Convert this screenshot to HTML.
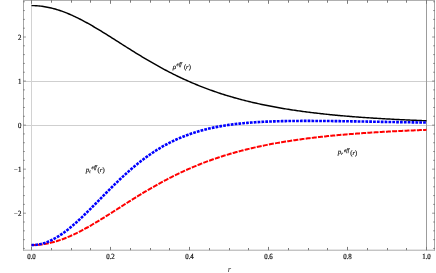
<!DOCTYPE html>
<html><head><meta charset="utf-8"><title>plot</title>
<style>html,body{margin:0;padding:0;background:#fff;}svg{display:block;will-change:transform;}text{font-family:"Liberation Serif",serif;text-rendering:geometricPrecision;}</style></head><body>
<svg width="436" height="273" viewBox="0 0 436 273">
<rect x="0" y="0" width="436" height="273" fill="#fff"/>
<line x1="23.50" y1="125.50" x2="434.50" y2="125.50" stroke="#cfcfcf" stroke-width="1"/>
<line x1="23.50" y1="81.50" x2="434.50" y2="81.50" stroke="#cfcfcf" stroke-width="1"/>
<line x1="31.50" y1="0.50" x2="31.50" y2="250.20" stroke="#d2d2d2" stroke-width="1"/>
<line x1="426.50" y1="0.50" x2="426.50" y2="250.20" stroke="#9c9c9c" stroke-width="1"/>
<path d="M31.50,5.61 L32.82,5.62 L34.13,5.65 L35.45,5.71 L36.77,5.78 L38.08,5.88 L39.40,6.00 L40.72,6.14 L42.03,6.30 L43.35,6.49 L44.67,6.69 L45.98,6.92 L47.30,7.17 L48.62,7.43 L49.93,7.72 L51.25,8.03 L52.57,8.35 L53.88,8.70 L55.20,9.07 L56.52,9.45 L57.83,9.86 L59.15,10.28 L60.47,10.72 L61.78,11.18 L63.10,11.65 L64.42,12.15 L65.73,12.66 L67.05,13.18 L68.37,13.73 L69.68,14.28 L71.00,14.86 L72.32,15.44 L73.63,16.05 L74.95,16.66 L76.27,17.29 L77.58,17.93 L78.90,18.59 L80.22,19.26 L81.53,19.93 L82.85,20.63 L84.17,21.33 L85.48,22.04 L86.80,22.76 L88.12,23.49 L89.43,24.23 L90.75,24.98 L92.07,25.74 L93.38,26.50 L94.70,27.28 L96.02,28.06 L97.33,28.84 L98.65,29.64 L99.97,30.43 L101.28,31.24 L102.60,32.05 L103.92,32.86 L105.23,33.67 L106.55,34.49 L107.87,35.32 L109.18,36.15 L110.50,36.97 L111.82,37.81 L113.13,38.64 L114.45,39.47 L115.77,40.31 L117.08,41.14 L118.40,41.98 L119.72,42.82 L121.03,43.65 L122.35,44.49 L123.67,45.32 L124.98,46.16 L126.30,46.99 L127.62,47.82 L128.93,48.65 L130.25,49.48 L131.57,50.30 L132.88,51.12 L134.20,51.94 L135.52,52.76 L136.83,53.57 L138.15,54.38 L139.47,55.18 L140.78,55.98 L142.10,56.78 L143.42,57.57 L144.73,58.36 L146.05,59.14 L147.37,59.92 L148.68,60.69 L150.00,61.46 L151.32,62.22 L152.63,62.98 L153.95,63.73 L155.27,64.48 L156.58,65.22 L157.90,65.95 L159.22,66.68 L160.53,67.41 L161.85,68.12 L163.17,68.83 L164.48,69.54 L165.80,70.24 L167.12,70.93 L168.43,71.61 L169.75,72.29 L171.07,72.96 L172.38,73.63 L173.70,74.29 L175.02,74.94 L176.33,75.59 L177.65,76.23 L178.97,76.86 L180.28,77.49 L181.60,78.11 L182.92,78.72 L184.23,79.33 L185.55,79.93 L186.87,80.52 L188.18,81.11 L189.50,81.69 L190.82,82.26 L192.13,82.83 L193.45,83.39 L194.77,83.94 L196.08,84.49 L197.40,85.03 L198.72,85.56 L200.03,86.09 L201.35,86.61 L202.67,87.12 L203.98,87.63 L205.30,88.14 L206.62,88.63 L207.93,89.12 L209.25,89.60 L210.57,90.08 L211.88,90.55 L213.20,91.02 L214.52,91.48 L215.83,91.93 L217.15,92.38 L218.47,92.82 L219.78,93.26 L221.10,93.69 L222.42,94.11 L223.73,94.53 L225.05,94.94 L226.37,95.35 L227.68,95.75 L229.00,96.15 L230.32,96.54 L231.63,96.93 L232.95,97.31 L234.27,97.68 L235.58,98.05 L236.90,98.42 L238.22,98.78 L239.53,99.14 L240.85,99.49 L242.17,99.83 L243.48,100.17 L244.80,100.51 L246.12,100.84 L247.43,101.17 L248.75,101.49 L250.07,101.81 L251.38,102.12 L252.70,102.43 L254.02,102.74 L255.33,103.04 L256.65,103.33 L257.97,103.63 L259.28,103.91 L260.60,104.20 L261.92,104.48 L263.23,104.75 L264.55,105.03 L265.87,105.29 L267.18,105.56 L268.50,105.82 L269.82,106.08 L271.13,106.33 L272.45,106.58 L273.77,106.82 L275.08,107.07 L276.40,107.31 L277.72,107.54 L279.03,107.77 L280.35,108.00 L281.67,108.23 L282.98,108.45 L284.30,108.67 L285.62,108.89 L286.93,109.10 L288.25,109.31 L289.57,109.52 L290.88,109.72 L292.20,109.92 L293.52,110.12 L294.83,110.32 L296.15,110.51 L297.47,110.70 L298.78,110.89 L300.10,111.07 L301.42,111.25 L302.73,111.43 L304.05,111.61 L305.37,111.78 L306.68,111.96 L308.00,112.12 L309.32,112.29 L310.63,112.46 L311.95,112.62 L313.27,112.78 L314.58,112.94 L315.90,113.09 L317.22,113.25 L318.53,113.40 L319.85,113.55 L321.17,113.69 L322.48,113.84 L323.80,113.98 L325.12,114.12 L326.43,114.26 L327.75,114.40 L329.07,114.53 L330.38,114.66 L331.70,114.80 L333.02,114.92 L334.33,115.05 L335.65,115.18 L336.97,115.30 L338.28,115.42 L339.60,115.54 L340.92,115.66 L342.23,115.78 L343.55,115.90 L344.87,116.01 L346.18,116.12 L347.50,116.23 L348.82,116.34 L350.13,116.45 L351.45,116.56 L352.77,116.66 L354.08,116.76 L355.40,116.87 L356.72,116.97 L358.03,117.07 L359.35,117.16 L360.67,117.26 L361.98,117.36 L363.30,117.45 L364.62,117.54 L365.93,117.63 L367.25,117.72 L368.57,117.81 L369.88,117.90 L371.20,117.99 L372.52,118.07 L373.83,118.16 L375.15,118.24 L376.47,118.32 L377.78,118.40 L379.10,118.48 L380.42,118.56 L381.73,118.64 L383.05,118.71 L384.37,118.79 L385.68,118.86 L387.00,118.94 L388.32,119.01 L389.63,119.08 L390.95,119.15 L392.27,119.22 L393.58,119.29 L394.90,119.36 L396.22,119.42 L397.53,119.49 L398.85,119.56 L400.17,119.62 L401.48,119.68 L402.80,119.75 L404.12,119.81 L405.43,119.87 L406.75,119.93 L408.07,119.99 L409.38,120.05 L410.70,120.11 L412.02,120.16 L413.33,120.22 L414.65,120.28 L415.97,120.33 L417.28,120.39 L418.60,120.44 L419.92,120.49 L421.23,120.54 L422.55,120.60 L423.87,120.65 L425.18,120.70 L426.50,120.75" fill="none" stroke="#000" stroke-width="1.45" stroke-linejoin="round"/>
<path d="M31.50,245.09 L32.82,245.08 L34.13,245.05 L35.45,244.99 L36.77,244.91 L38.08,244.81 L39.40,244.69 L40.72,244.55 L42.03,244.39 L43.35,244.20 L44.67,243.99 L45.98,243.77 L47.30,243.52 L48.62,243.25 L49.93,242.95 L51.25,242.64 L52.57,242.31 L53.88,241.96 L55.20,241.59 L56.52,241.20 L57.83,240.79 L59.15,240.37 L60.47,239.92 L61.78,239.46 L63.10,238.97 L64.42,238.48 L65.73,237.96 L67.05,237.43 L68.37,236.88 L69.68,236.32 L71.00,235.74 L72.32,235.14 L73.63,234.54 L74.95,233.91 L76.27,233.28 L77.58,232.63 L78.90,231.97 L80.22,231.29 L81.53,230.61 L82.85,229.91 L84.17,229.20 L85.48,228.48 L86.80,227.75 L88.12,227.02 L89.43,226.27 L90.75,225.51 L92.07,224.75 L93.38,223.98 L94.70,223.20 L96.02,222.41 L97.33,221.62 L98.65,220.82 L99.97,220.01 L101.28,219.20 L102.60,218.39 L103.92,217.57 L105.23,216.75 L106.55,215.92 L107.87,215.09 L109.18,214.26 L110.50,213.42 L111.82,212.59 L113.13,211.75 L114.45,210.91 L115.77,210.07 L117.08,209.23 L118.40,208.38 L119.72,207.54 L121.03,206.70 L122.35,205.86 L123.67,205.02 L124.98,204.18 L126.30,203.35 L127.62,202.51 L128.93,201.68 L130.25,200.85 L131.57,200.02 L132.88,199.19 L134.20,198.37 L135.52,197.55 L136.83,196.74 L138.15,195.93 L139.47,195.12 L140.78,194.32 L142.10,193.52 L143.42,192.72 L144.73,191.93 L146.05,191.15 L147.37,190.37 L148.68,189.59 L150.00,188.82 L151.32,188.06 L152.63,187.30 L153.95,186.55 L155.27,185.80 L156.58,185.06 L157.90,184.32 L159.22,183.59 L160.53,182.87 L161.85,182.15 L163.17,181.44 L164.48,180.73 L165.80,180.04 L167.12,179.34 L168.43,178.66 L169.75,177.98 L171.07,177.31 L172.38,176.64 L173.70,175.98 L175.02,175.33 L176.33,174.68 L177.65,174.04 L178.97,173.41 L180.28,172.79 L181.60,172.17 L182.92,171.55 L184.23,170.95 L185.55,170.35 L186.87,169.76 L188.18,169.17 L189.50,168.59 L190.82,168.02 L192.13,167.46 L193.45,166.90 L194.77,166.35 L196.08,165.80 L197.40,165.26 L198.72,164.73 L200.03,164.20 L201.35,163.69 L202.67,163.17 L203.98,162.67 L205.30,162.17 L206.62,161.67 L207.93,161.18 L209.25,160.70 L210.57,160.23 L211.88,159.76 L213.20,159.30 L214.52,158.84 L215.83,158.39 L217.15,157.94 L218.47,157.50 L219.78,157.07 L221.10,156.64 L222.42,156.22 L223.73,155.80 L225.05,155.39 L226.37,154.99 L227.68,154.59 L229.00,154.19 L230.32,153.80 L231.63,153.42 L232.95,153.04 L234.27,152.67 L235.58,152.30 L236.90,151.94 L238.22,151.58 L239.53,151.23 L240.85,150.88 L242.17,150.54 L243.48,150.20 L244.80,149.86 L246.12,149.53 L247.43,149.21 L248.75,148.89 L250.07,148.57 L251.38,148.26 L252.70,147.96 L254.02,147.65 L255.33,147.36 L256.65,147.06 L257.97,146.77 L259.28,146.49 L260.60,146.21 L261.92,145.93 L263.23,145.66 L264.55,145.39 L265.87,145.12 L267.18,144.86 L268.50,144.60 L269.82,144.35 L271.13,144.10 L272.45,143.85 L273.77,143.60 L275.08,143.36 L276.40,143.13 L277.72,142.89 L279.03,142.66 L280.35,142.44 L281.67,142.21 L282.98,141.99 L284.30,141.78 L285.62,141.56 L286.93,141.35 L288.25,141.14 L289.57,140.94 L290.88,140.74 L292.20,140.54 L293.52,140.34 L294.83,140.15 L296.15,139.96 L297.47,139.77 L298.78,139.59 L300.10,139.40 L301.42,139.22 L302.73,139.05 L304.05,138.87 L305.37,138.70 L306.68,138.53 L308.00,138.36 L309.32,138.20 L310.63,138.03 L311.95,137.87 L313.27,137.72 L314.58,137.56 L315.90,137.41 L317.22,137.26 L318.53,137.11 L319.85,136.96 L321.17,136.81 L322.48,136.67 L323.80,136.53 L325.12,136.39 L326.43,136.25 L327.75,136.12 L329.07,135.99 L330.38,135.86 L331.70,135.73 L333.02,135.60 L334.33,135.47 L335.65,135.35 L336.97,135.23 L338.28,135.11 L339.60,134.99 L340.92,134.87 L342.23,134.75 L343.55,134.64 L344.87,134.53 L346.18,134.42 L347.50,134.31 L348.82,134.20 L350.13,134.09 L351.45,133.99 L352.77,133.89 L354.08,133.78 L355.40,133.68 L356.72,133.58 L358.03,133.49 L359.35,133.39 L360.67,133.30 L361.98,133.20 L363.30,133.11 L364.62,133.02 L365.93,132.93 L367.25,132.84 L368.57,132.75 L369.88,132.67 L371.20,132.58 L372.52,132.50 L373.83,132.41 L375.15,132.33 L376.47,132.25 L377.78,132.17 L379.10,132.09 L380.42,132.02 L381.73,131.94 L383.05,131.86 L384.37,131.79 L385.68,131.72 L387.00,131.64 L388.32,131.57 L389.63,131.50 L390.95,131.43 L392.27,131.36 L393.58,131.30 L394.90,131.23 L396.22,131.16 L397.53,131.10 L398.85,131.04 L400.17,130.97 L401.48,130.91 L402.80,130.85 L404.12,130.79 L405.43,130.73 L406.75,130.67 L408.07,130.61 L409.38,130.55 L410.70,130.49 L412.02,130.44 L413.33,130.38 L414.65,130.33 L415.97,130.27 L417.28,130.22 L418.60,130.17 L419.92,130.12 L421.23,130.06 L422.55,130.01 L423.87,129.96 L425.18,129.91 L426.50,129.86" fill="none" stroke="#f00" stroke-width="2.0" stroke-dasharray="5.0 1.2" stroke-linejoin="round"/>
<path d="M31.50,245.09 L32.82,245.07 L34.13,245.00 L35.45,244.89 L36.77,244.74 L38.08,244.54 L39.40,244.30 L40.72,244.02 L42.03,243.69 L43.35,243.32 L44.67,242.91 L45.98,242.46 L47.30,241.97 L48.62,241.44 L49.93,240.87 L51.25,240.26 L52.57,239.61 L53.88,238.92 L55.20,238.20 L56.52,237.44 L57.83,236.65 L59.15,235.82 L60.47,234.96 L61.78,234.07 L63.10,233.15 L64.42,232.20 L65.73,231.22 L67.05,230.21 L68.37,229.17 L69.68,228.11 L71.00,227.02 L72.32,225.91 L73.63,224.78 L74.95,223.62 L76.27,222.45 L77.58,221.26 L78.90,220.05 L80.22,218.82 L81.53,217.58 L82.85,216.32 L84.17,215.05 L85.48,213.77 L86.80,212.48 L88.12,211.18 L89.43,209.87 L90.75,208.55 L92.07,207.22 L93.38,205.89 L94.70,204.56 L96.02,203.22 L97.33,201.88 L98.65,200.54 L99.97,199.19 L101.28,197.85 L102.60,196.51 L103.92,195.17 L105.23,193.83 L106.55,192.50 L107.87,191.17 L109.18,189.85 L110.50,188.54 L111.82,187.23 L113.13,185.93 L114.45,184.63 L115.77,183.35 L117.08,182.07 L118.40,180.81 L119.72,179.55 L121.03,178.31 L122.35,177.08 L123.67,175.86 L124.98,174.65 L126.30,173.46 L127.62,172.28 L128.93,171.11 L130.25,169.96 L131.57,168.82 L132.88,167.69 L134.20,166.58 L135.52,165.49 L136.83,164.41 L138.15,163.35 L139.47,162.30 L140.78,161.27 L142.10,160.25 L143.42,159.25 L144.73,158.27 L146.05,157.30 L147.37,156.35 L148.68,155.42 L150.00,154.50 L151.32,153.60 L152.63,152.71 L153.95,151.84 L155.27,150.99 L156.58,150.16 L157.90,149.34 L159.22,148.53 L160.53,147.74 L161.85,146.97 L163.17,146.22 L164.48,145.48 L165.80,144.75 L167.12,144.04 L168.43,143.35 L169.75,142.67 L171.07,142.01 L172.38,141.36 L173.70,140.73 L175.02,140.11 L176.33,139.51 L177.65,138.92 L178.97,138.34 L180.28,137.78 L181.60,137.23 L182.92,136.70 L184.23,136.17 L185.55,135.67 L186.87,135.17 L188.18,134.69 L189.50,134.22 L190.82,133.76 L192.13,133.31 L193.45,132.88 L194.77,132.46 L196.08,132.04 L197.40,131.64 L198.72,131.26 L200.03,130.88 L201.35,130.51 L202.67,130.15 L203.98,129.81 L205.30,129.47 L206.62,129.14 L207.93,128.82 L209.25,128.52 L210.57,128.22 L211.88,127.93 L213.20,127.64 L214.52,127.37 L215.83,127.11 L217.15,126.85 L218.47,126.60 L219.78,126.36 L221.10,126.13 L222.42,125.91 L223.73,125.69 L225.05,125.48 L226.37,125.27 L227.68,125.08 L229.00,124.89 L230.32,124.70 L231.63,124.53 L232.95,124.35 L234.27,124.19 L235.58,124.03 L236.90,123.88 L238.22,123.73 L239.53,123.59 L240.85,123.45 L242.17,123.32 L243.48,123.19 L244.80,123.07 L246.12,122.95 L247.43,122.84 L248.75,122.73 L250.07,122.62 L251.38,122.52 L252.70,122.43 L254.02,122.33 L255.33,122.25 L256.65,122.16 L257.97,122.08 L259.28,122.01 L260.60,121.93 L261.92,121.86 L263.23,121.80 L264.55,121.73 L265.87,121.67 L267.18,121.61 L268.50,121.56 L269.82,121.51 L271.13,121.46 L272.45,121.41 L273.77,121.37 L275.08,121.33 L276.40,121.29 L277.72,121.25 L279.03,121.22 L280.35,121.19 L281.67,121.16 L282.98,121.13 L284.30,121.10 L285.62,121.08 L286.93,121.06 L288.25,121.04 L289.57,121.02 L290.88,121.00 L292.20,120.99 L293.52,120.97 L294.83,120.96 L296.15,120.95 L297.47,120.94 L298.78,120.93 L300.10,120.93 L301.42,120.92 L302.73,120.92 L304.05,120.92 L305.37,120.92 L306.68,120.92 L308.00,120.92 L309.32,120.92 L310.63,120.92 L311.95,120.92 L313.27,120.93 L314.58,120.93 L315.90,120.94 L317.22,120.95 L318.53,120.96 L319.85,120.97 L321.17,120.97 L322.48,120.99 L323.80,121.00 L325.12,121.01 L326.43,121.02 L327.75,121.03 L329.07,121.05 L330.38,121.06 L331.70,121.07 L333.02,121.09 L334.33,121.10 L335.65,121.12 L336.97,121.14 L338.28,121.15 L339.60,121.17 L340.92,121.19 L342.23,121.21 L343.55,121.22 L344.87,121.24 L346.18,121.26 L347.50,121.28 L348.82,121.30 L350.13,121.32 L351.45,121.34 L352.77,121.36 L354.08,121.38 L355.40,121.40 L356.72,121.42 L358.03,121.44 L359.35,121.46 L360.67,121.48 L361.98,121.51 L363.30,121.53 L364.62,121.55 L365.93,121.57 L367.25,121.59 L368.57,121.62 L369.88,121.64 L371.20,121.66 L372.52,121.68 L373.83,121.70 L375.15,121.73 L376.47,121.75 L377.78,121.77 L379.10,121.79 L380.42,121.82 L381.73,121.84 L383.05,121.86 L384.37,121.88 L385.68,121.90 L387.00,121.93 L388.32,121.95 L389.63,121.97 L390.95,121.99 L392.27,122.02 L393.58,122.04 L394.90,122.06 L396.22,122.08 L397.53,122.11 L398.85,122.13 L400.17,122.15 L401.48,122.17 L402.80,122.19 L404.12,122.22 L405.43,122.24 L406.75,122.26 L408.07,122.28 L409.38,122.30 L410.70,122.32 L412.02,122.34 L413.33,122.37 L414.65,122.39 L415.97,122.41 L417.28,122.43 L418.60,122.45 L419.92,122.47 L421.23,122.49 L422.55,122.51 L423.87,122.53 L425.18,122.55 L426.50,122.57" fill="none" stroke="#00f" stroke-width="2.6" stroke-dasharray="2.75 1.1" stroke-linejoin="round"/>
<line x1="23.00" y1="0.5" x2="435.00" y2="0.5" stroke="#b0b0b0" stroke-width="1"/>
<line x1="23.00" y1="250.20" x2="435.00" y2="250.20" stroke="#7c7c7c" stroke-width="0.65"/>
<line x1="23.50" y1="0" x2="23.50" y2="250.65" stroke="#a6a6a6" stroke-width="1"/>
<line x1="434.50" y1="0" x2="434.50" y2="250.65" stroke="#a6a6a6" stroke-width="1"/>
<path d="M31.50,250.20 v-3.30 M31.50,0.00 v3.80 M51.50,250.20 v-2.20 M51.50,0.00 v2.70 M71.50,250.20 v-2.20 M71.50,0.00 v2.70 M90.50,250.20 v-2.20 M90.50,0.00 v2.70 M110.50,250.20 v-3.30 M110.50,0.00 v3.80 M130.50,250.20 v-2.20 M130.50,0.00 v2.70 M150.50,250.20 v-2.20 M150.50,0.00 v2.70 M169.50,250.20 v-2.20 M169.50,0.00 v2.70 M189.50,250.20 v-3.30 M189.50,0.00 v3.80 M209.50,250.20 v-2.20 M209.50,0.00 v2.70 M229.50,250.20 v-2.20 M229.50,0.00 v2.70 M248.50,250.20 v-2.20 M248.50,0.00 v2.70 M268.50,250.20 v-3.30 M268.50,0.00 v3.80 M288.50,250.20 v-2.20 M288.50,0.00 v2.70 M308.50,250.20 v-2.20 M308.50,0.00 v2.70 M327.50,250.20 v-2.20 M327.50,0.00 v2.70 M347.50,250.20 v-3.30 M347.50,0.00 v3.80 M367.50,250.20 v-2.20 M367.50,0.00 v2.70 M387.50,250.20 v-2.20 M387.50,0.00 v2.70 M406.50,250.20 v-2.20 M406.50,0.00 v2.70 M426.50,250.20 v-3.30 M426.50,0.00 v3.80" fill="none" stroke="#7a7a7a" stroke-width="1"/>
<path d="M23.00,248.44 h1.90 M435.00,248.44 h-1.90 M23.00,239.63 h1.90 M435.00,239.63 h-1.90 M23.00,230.82 h1.90 M435.00,230.82 h-1.90 M23.00,222.01 h1.90 M435.00,222.01 h-1.90 M23.00,213.20 h2.90 M435.00,213.20 h-2.90 M23.00,204.39 h1.90 M435.00,204.39 h-1.90 M23.00,195.58 h1.90 M435.00,195.58 h-1.90 M23.00,186.77 h1.90 M435.00,186.77 h-1.90 M23.00,177.96 h1.90 M435.00,177.96 h-1.90 M23.00,169.15 h2.90 M435.00,169.15 h-2.90 M23.00,160.34 h1.90 M435.00,160.34 h-1.90 M23.00,151.53 h1.90 M435.00,151.53 h-1.90 M23.00,142.72 h1.90 M435.00,142.72 h-1.90 M23.00,133.91 h1.90 M435.00,133.91 h-1.90 M23.00,125.10 h2.90 M435.00,125.10 h-2.90 M23.00,116.29 h1.90 M435.00,116.29 h-1.90 M23.00,107.48 h1.90 M435.00,107.48 h-1.90 M23.00,98.67 h1.90 M435.00,98.67 h-1.90 M23.00,89.86 h1.90 M435.00,89.86 h-1.90 M23.00,81.05 h2.90 M435.00,81.05 h-2.90 M23.00,72.24 h1.90 M435.00,72.24 h-1.90 M23.00,63.43 h1.90 M435.00,63.43 h-1.90 M23.00,54.62 h1.90 M435.00,54.62 h-1.90 M23.00,45.81 h1.90 M435.00,45.81 h-1.90 M23.00,37.00 h2.90 M435.00,37.00 h-2.90 M23.00,28.19 h1.90 M435.00,28.19 h-1.90 M23.00,19.38 h1.90 M435.00,19.38 h-1.90 M23.00,10.57 h1.90 M435.00,10.57 h-1.90 M23.00,1.76 h1.90 M435.00,1.76 h-1.90" fill="none" stroke="#6a6a6a" stroke-width="0.7"/>
<text transform="translate(31.50 258.90) scale(0.87 1)" font-size="7.9" text-anchor="middle" fill="#111" stroke="#111" stroke-width="0.22">0.0</text>
<text transform="translate(110.50 258.90) scale(0.87 1)" font-size="7.9" text-anchor="middle" fill="#111" stroke="#111" stroke-width="0.22">0.2</text>
<text transform="translate(189.50 258.90) scale(0.87 1)" font-size="7.9" text-anchor="middle" fill="#111" stroke="#111" stroke-width="0.22">0.4</text>
<text transform="translate(268.50 258.90) scale(0.87 1)" font-size="7.9" text-anchor="middle" fill="#111" stroke="#111" stroke-width="0.22">0.6</text>
<text transform="translate(347.50 258.90) scale(0.87 1)" font-size="7.9" text-anchor="middle" fill="#111" stroke="#111" stroke-width="0.22">0.8</text>
<text transform="translate(426.50 258.90) scale(0.87 1)" font-size="7.9" text-anchor="middle" fill="#111" stroke="#111" stroke-width="0.22">1.0</text>
<text transform="translate(21.40 39.95) scale(0.87 1)" font-size="7.9" text-anchor="end" fill="#111" stroke="#111" stroke-width="0.22">2</text>
<text transform="translate(21.40 84.00) scale(0.87 1)" font-size="7.9" text-anchor="end" fill="#111" stroke="#111" stroke-width="0.22">1</text>
<text transform="translate(21.40 128.05) scale(0.87 1)" font-size="7.9" text-anchor="end" fill="#111" stroke="#111" stroke-width="0.22">0</text>
<text x="13.7" y="171.85" font-size="7.4" fill="#111">−</text>
<text transform="translate(21.40 172.10) scale(0.87 1)" font-size="7.9" text-anchor="end" fill="#111" stroke="#111" stroke-width="0.22">1</text>
<text x="13.7" y="215.90" font-size="7.4" fill="#111">−</text>
<text transform="translate(21.40 216.15) scale(0.87 1)" font-size="7.9" text-anchor="end" fill="#111" stroke="#111" stroke-width="0.22">2</text>
<text x="229.5" y="271.7" font-size="8.6" font-style="italic" text-anchor="middle" fill="#333">r</text>
<g fill="#1a1a1a" stroke="#1a1a1a" stroke-width="0.18" font-style="italic">
<text x="172.70" y="68.60" font-size="7">ρ</text>
<text x="176.60" y="65.70" font-size="5.2">eff</text>
<text x="183.90" y="68.70" font-size="6.6"><tspan font-style="normal">(</tspan>r<tspan font-style="normal">)</tspan></text>
</g>
<g fill="#1a1a1a" stroke="#1a1a1a" stroke-width="0.18" font-style="italic">
<text x="85.80" y="171.50" font-size="7">p</text>
<text x="89.20" y="172.50" font-size="4.6">t</text>
<text x="91.60" y="168.60" font-size="5.2">eff</text>
<text x="97.60" y="171.60" font-size="6.6"><tspan font-style="normal">(</tspan>r<tspan font-style="normal">)</tspan></text>
</g>
<g fill="#1a1a1a" stroke="#1a1a1a" stroke-width="0.18" font-style="italic">
<text x="337.80" y="154.40" font-size="7">p</text>
<text x="341.20" y="155.40" font-size="4.6">r</text>
<text x="343.90" y="151.50" font-size="5.2">eff</text>
<text x="350.30" y="154.50" font-size="6.6"><tspan font-style="normal">(</tspan>r<tspan font-style="normal">)</tspan></text>
</g>
</svg></body></html>
